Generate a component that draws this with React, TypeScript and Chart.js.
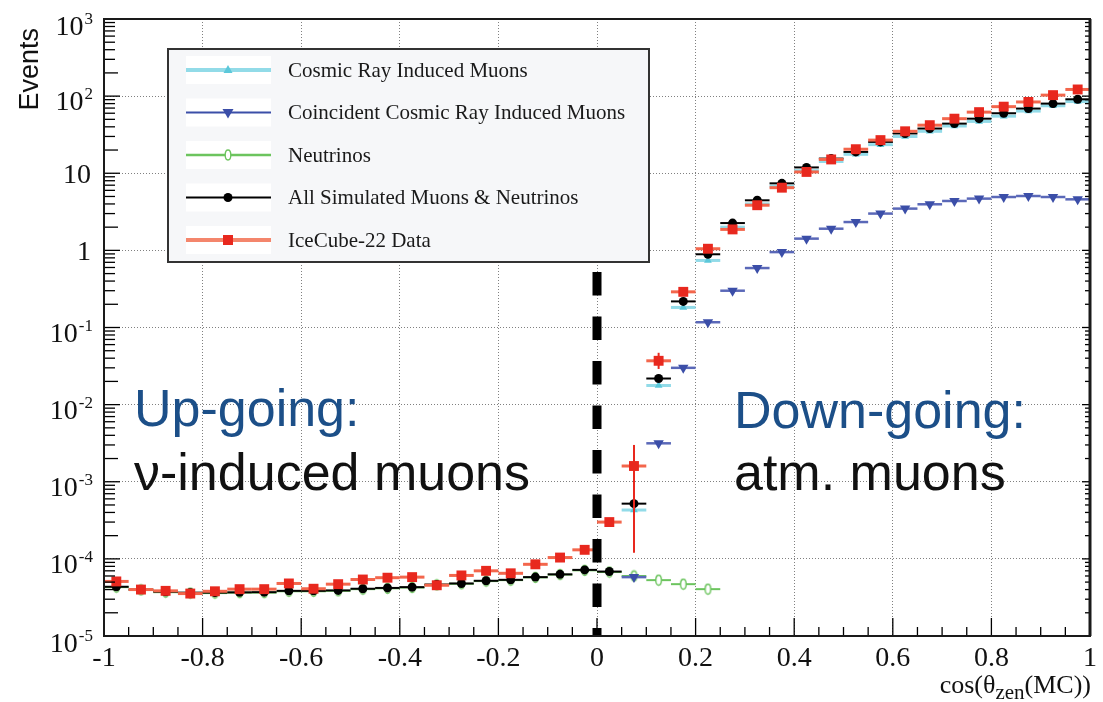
import { useEffect, useRef } from "react";
import { Chart, registerables } from "chart.js";

Chart.register(...registerables);

// ---------------- data ----------------
const binCenters = [
  -0.975, -0.925, -0.875, -0.825, -0.775, -0.725, -0.675, -0.625, -0.575, -0.525,
  -0.475, -0.425, -0.375, -0.325, -0.275, -0.225, -0.175, -0.125, -0.075, -0.025,
  0.025, 0.075, 0.125, 0.175, 0.225, 0.275, 0.325, 0.375, 0.425, 0.475,
  0.525, 0.575, 0.625, 0.675, 0.725, 0.775, 0.825, 0.875, 0.925, 0.975,
];
const binHalfWidth = 0.025;

const cosmicRayMuons = [
  null, null, null, null, null, null, null, null, null, null,
  null, null, null, null, null, null, null, null, null, null,
  null, 4.3e-4, 0.0177, 0.182, 0.74, 2.0, 4.0, 6.8, 10.8, 14.2,
  17.6, 23.5, 30, 35, 41, 47, 55, 64, 75, 85,
];

const coincidentMuons = [
  null, null, null, null, null, null, null, null, null, null,
  null, null, null, null, null, null, null, null, null, null,
  null, 5.8e-5, 3.15e-3, 0.030, 0.117, 0.30, 0.59, 0.95, 1.42, 1.91,
  2.33, 3.0, 3.48, 3.96, 4.37, 4.69, 4.92, 5.07, 4.92, 4.59,
];

const neutrinos = [
  4.3e-5, 3.95e-5, 3.7e-5, 3.6e-5, 3.6e-5, 3.65e-5, 3.65e-5, 3.8e-5, 3.8e-5, 3.85e-5,
  4.05e-5, 4.15e-5, 4.25e-5, 4.6e-5, 4.75e-5, 5.15e-5, 5.3e-5, 5.75e-5, 6.25e-5, 7.1e-5,
  6.75e-5, 6.0e-5, 5.3e-5, 4.7e-5, 4.05e-5, null, null, null, null, null,
  null, null, null, null, null, null, null, null, null, null,
];

const allSimulated = [
  4.35e-5, 4.0e-5, 3.75e-5, 3.65e-5, 3.65e-5, 3.68e-5, 3.7e-5, 3.85e-5, 3.85e-5, 3.9e-5,
  4.1e-5, 4.2e-5, 4.3e-5, 4.65e-5, 4.8e-5, 5.2e-5, 5.35e-5, 5.8e-5, 6.3e-5, 7.2e-5,
  6.85e-5, 5.2e-4, 0.0218, 0.218, 0.89, 2.26, 4.46, 7.4, 11.9, 15.5,
  18.9, 25.5, 32.8, 38, 44, 51, 60, 69, 80, 91,
];

const iceCube22 = [
  5.1e-5, 4.0e-5, 3.85e-5, 3.55e-5, 3.8e-5, 4.05e-5, 4.05e-5, 4.8e-5, 4.1e-5, 4.7e-5,
  5.4e-5, 5.7e-5, 5.8e-5, 4.55e-5, 6.1e-5, 7.0e-5, 6.5e-5, 8.5e-5, 1.04e-4, 1.31e-4,
  3.0e-4, 1.6e-3, 0.037, 0.29, 1.05, 1.87, 3.85, 6.5, 10.4, 15.1,
  20.5, 26.9, 35, 42, 51, 62, 73, 84, 103, 122,
];

// vertical error bars of the data (only where visible)
const iceCubeErrBins = [0.075, 0.125];
const iceCubeErrLow = [1.2e-4, 0.029];
const iceCubeErrHigh = [3.0e-3, 0.047];

const xTickValues = [-1, -0.8, -0.6, -0.4, -0.2, 0, 0.2, 0.4, 0.6, 0.8, 1];
const xTickLabels = ["-1", "-0.8", "-0.6", "-0.4", "-0.2", "0", "0.2", "0.4", "0.6", "0.8", "1"];
const yTickValues = [1e-5, 1e-4, 1e-3, 1e-2, 1e-1, 1, 10, 100, 1000];
const yTickBase = ["10", "10", "10", "10", "10", "1", "10", "10", "10"];
const yTickExponent = ["-5", "-4", "-3", "-2", "-1", "", "", "2", "3"];

const cutValue = 0;
const upText = ["Up-going:", "ν-induced muons"];
const downText = ["Down-going:", "atm. muons"];

// ---------------- styles ----------------
const SERIF = '"Liberation Serif", "Times New Roman", serif';
const SANS = '"Liberation Sans", Arial, Helvetica, sans-serif';

const C_CYAN = "#5cc8da";
const C_CYAN_BAR = "#92dbe8";
const C_BLUE = "#3b4ea8";
const C_BLUE_BAR = "#5a68b8";
const C_GREEN = "#6cc45e";
const C_BLACK = "#000000";
const C_RED = "#e8281e";
const C_RED_BAR = "#f3664c";
const C_RED_LEG = "#f4866c";
const C_ANNOT_BLUE = "#1c4f88";

function toPoints(arr: (number | null)[]) {
  const pts: { x: number; y: number }[] = [];
  arr.forEach((v, i) => {
    if (v !== null && v !== undefined) pts.push({ x: binCenters[i], y: v });
  });
  return pts;
}

function makeEllipseMarker(color: string) {
  const c = document.createElement("canvas");
  c.width = 9;
  c.height = 13;
  const g = c.getContext("2d")!;
  g.strokeStyle = color;
  g.fillStyle = "#ffffff";
  g.lineWidth = 1.4;
  g.beginPath();
  g.ellipse(4.5, 6.5, 2.8, 5, 0, 0, Math.PI * 2);
  g.fill();
  g.stroke();
  return c;
}

function drawMarker(ctx: CanvasRenderingContext2D, kind: string, x: number, y: number, color: string) {
  ctx.save();
  ctx.fillStyle = color;
  ctx.strokeStyle = color;
  ctx.beginPath();
  if (kind === "rect") {
    ctx.rect(x - 5, y - 5, 10, 10);
    ctx.fill();
  } else if (kind === "circle") {
    ctx.arc(x, y, 4.5, 0, Math.PI * 2);
    ctx.fill();
  } else if (kind === "triUp") {
    ctx.moveTo(x, y - 5);
    ctx.lineTo(x + 4.5, y + 3);
    ctx.lineTo(x - 4.5, y + 3);
    ctx.closePath();
    ctx.fill();
  } else if (kind === "triDown") {
    ctx.moveTo(x, y + 6);
    ctx.lineTo(x + 5.5, y - 3.5);
    ctx.lineTo(x - 5.5, y - 3.5);
    ctx.closePath();
    ctx.fill();
  } else if (kind === "ellipse") {
    ctx.fillStyle = "#fff";
    ctx.lineWidth = 1.4;
    ctx.ellipse(x, y, 2.8, 5, 0, 0, Math.PI * 2);
    ctx.fill();
    ctx.stroke();
  }
  ctx.restore();
}

// horizontal (bin width) and vertical error bars, drawn under each dataset's markers
const errorBarPlugin = {
  id: "errorBars",
  beforeDatasetDraw(chart: any, args: any) {
    const ds = chart.data.datasets[args.index];
    const xs = chart.scales.x;
    const ys = chart.scales.y;
    const ctx: CanvasRenderingContext2D = chart.ctx;
    const area = chart.chartArea;
    ctx.save();
    ctx.beginPath();
    ctx.rect(area.left, area.top, area.right - area.left, area.bottom - area.top);
    ctx.clip();
    ctx.strokeStyle = ds.barColor;
    ctx.lineWidth = ds.barWidth;
    ds.data.forEach((p: any) => {
      const y = ys.getPixelForValue(p.y);
      ctx.beginPath();
      ctx.moveTo(xs.getPixelForValue(p.x - binHalfWidth), y);
      ctx.lineTo(xs.getPixelForValue(p.x + binHalfWidth), y);
      ctx.stroke();
    });
    if (ds.errBins) {
      ctx.strokeStyle = ds.errColor;
      ctx.lineWidth = 2;
      ds.errBins.forEach((bx: number, i: number) => {
        const x = xs.getPixelForValue(bx);
        ctx.beginPath();
        ctx.moveTo(x, ys.getPixelForValue(ds.errLow[i]));
        ctx.lineTo(x, ys.getPixelForValue(ds.errHigh[i]));
        ctx.stroke();
      });
    }
    ctx.restore();
  },
};

// frame, ticks, dashed cut line, labels, legend
const framePlugin = {
  id: "frame",
  afterDatasetsDraw(chart: any) {
    const ctx: CanvasRenderingContext2D = chart.ctx;
    const a = chart.chartArea;
    const xs = chart.scales.x;
    const ys = chart.scales.y;

    // dashed vertical cut line at cos = 0
    const cx = xs.getPixelForValue(cutValue);
    ctx.save();
    ctx.strokeStyle = "#000";
    ctx.lineWidth = 9;
    ctx.setLineDash([23.5, 21]);
    ctx.beginPath();
    ctx.moveTo(cx, 272);
    ctx.lineTo(cx, a.bottom);
    ctx.stroke();
    ctx.restore();

    ctx.save();
    ctx.strokeStyle = "#000";
    ctx.lineWidth = 1.3;
    for (let d = -5; d <= 3; d++) {
      for (let m = 1; m <= 9; m++) {
        if (d === 3 && m > 1) break;
        const v = m * Math.pow(10, d);
        const y = ys.getPixelForValue(v);
        const len = m === 1 ? 16 : m === 2 ? 14 : 11;
        ctx.beginPath();
        ctx.moveTo(a.left, y);
        ctx.lineTo(a.left + len, y);
        ctx.stroke();
        ctx.beginPath();
        ctx.moveTo(a.right, y);
        ctx.lineTo(a.right - (m === 1 ? 8 : 5), y);
        ctx.stroke();
      }
    }
    for (let k = 0; k <= 40; k++) {
      const v = -1 + k * 0.05;
      const x = xs.getPixelForValue(v);
      const len = k % 4 === 0 ? 18 : 9;
      ctx.beginPath();
      ctx.moveTo(x, a.bottom);
      ctx.lineTo(x, a.bottom - len);
      ctx.stroke();
    }
    ctx.strokeStyle = "#1a1a1a";
    ctx.lineWidth = 2;
    ctx.strokeRect(a.left, a.top, a.right - a.left, a.bottom - a.top);
    ctx.lineWidth = 3;
    ctx.beginPath();
    ctx.moveTo(a.right, a.top);
    ctx.lineTo(a.right, a.bottom);
    ctx.stroke();
    ctx.restore();
  },
  afterDraw(chart: any) {
    const ctx: CanvasRenderingContext2D = chart.ctx;
    const a = chart.chartArea;
    const ys = chart.scales.y;

    // y tick labels with superscript exponents
    ctx.save();
    ctx.fillStyle = "#111";
    ctx.textBaseline = "alphabetic";
    yTickValues.forEach((v, i) => {
      const y = ys.getPixelForValue(v);
      const exp = yTickExponent[i];
      const right = 93;
      const edge = i === 0 || i === yTickValues.length - 1 ? 2 : 0;
      if (exp) {
        ctx.font = `17px ${SERIF}`;
        ctx.textAlign = "right";
        const ew = ctx.measureText(exp).width;
        ctx.fillText(exp, right, y + 3 + edge);
        ctx.font = `28px ${SERIF}`;
        ctx.fillText(yTickBase[i], right - ew - 1, y + 14 + edge);
      } else {
        ctx.font = `28px ${SERIF}`;
        ctx.textAlign = "right";
        ctx.fillText(yTickBase[i], right - 2, y + 10);
      }
    });
    ctx.restore();

    // y title
    ctx.save();
    ctx.translate(31, 28);
    ctx.rotate(-Math.PI / 2);
    ctx.font = `27px ${SANS}`;
    ctx.fillStyle = "#111";
    ctx.textAlign = "right";
    ctx.textBaseline = "middle";
    ctx.fillText("Events", 0, 0);
    ctx.restore();

    // x title: cos(θ_zen(MC))
    ctx.save();
    ctx.fillStyle = "#111";
    ctx.textBaseline = "alphabetic";
    ctx.textAlign = "left";
    const parts: [string, number, number][] = [
      ["cos(θ", 26, 0],
      ["zen", 21, 6],
      ["(MC))", 26, 0],
    ];
    let total = 0;
    parts.forEach(([t, s]) => {
      ctx.font = `${s}px ${SERIF}`;
      total += ctx.measureText(t).width;
    });
    let px = a.right + 1 - total;
    parts.forEach(([t, s, dy]) => {
      ctx.font = `${s}px ${SERIF}`;
      ctx.fillText(t, px, 693 + dy);
      px += ctx.measureText(t).width;
    });
    ctx.restore();

    // annotations
    ctx.save();
    ctx.font = `52px ${SANS}`;
    ctx.textAlign = "left";
    ctx.textBaseline = "alphabetic";
    ctx.fillStyle = C_ANNOT_BLUE;
    ctx.fillText(upText[0], 134, 426);
    ctx.fillText(downText[0], 734, 428);
    ctx.fillStyle = "#111";
    ctx.fillText(upText[1], 134, 490);
    ctx.fillText(downText[1], 734, 490);
    ctx.restore();

    // legend
    const legendOrder = [3, 2, 4, 1, 0];
    const box = { l: 168, t: 49, r: 649, b: 262 };
    ctx.save();
    ctx.fillStyle = "#f6f7f9";
    ctx.fillRect(box.l, box.t, box.r - box.l, box.b - box.t);
    ctx.strokeStyle = "#333";
    ctx.lineWidth = 2;
    ctx.strokeRect(box.l, box.t, box.r - box.l, box.b - box.t);
    legendOrder.forEach((di, row) => {
      const ds = chart.data.datasets[di];
      const cy = 70 + row * 42.5;
      ctx.fillStyle = "#ffffff";
      ctx.fillRect(186, cy - 14, 85, 28);
      ctx.strokeStyle = ds.legendLine;
      ctx.lineWidth = ds.legendLineWidth;
      ctx.beginPath();
      ctx.moveTo(186, cy);
      ctx.lineTo(271, cy);
      ctx.stroke();
      drawMarker(ctx, ds.legendMarker, 228, cy, ds.backgroundColor === "#ffffff" ? ds.borderColor : ds.backgroundColor);
      ctx.fillStyle = "#1a1a1a";
      ctx.font = `21px ${SERIF}`;
      ctx.textAlign = "left";
      ctx.textBaseline = "middle";
      ctx.fillText(ds.label, 288, cy + 1);
    });
    ctx.restore();
  },
};

export default function App() {
  const canvasRef = useRef<HTMLCanvasElement | null>(null);

  useEffect(() => {
    const canvas = canvasRef.current;
    if (!canvas) return;
    const ellipse = makeEllipseMarker(C_GREEN);

    const chart = new Chart(canvas, {
      type: "scatter",
      data: {
        datasets: [
          {
            label: "IceCube-22 Data",
            data: toPoints(iceCube22),
            pointStyle: "rect",
            pointRadius: 7,
            backgroundColor: C_RED,
            borderColor: C_RED,
            pointBorderWidth: 0,
            barColor: C_RED_BAR,
            barWidth: 3,
            errBins: iceCubeErrBins,
            errLow: iceCubeErrLow,
            errHigh: iceCubeErrHigh,
            errColor: C_RED,
            legendLine: C_RED_LEG,
            legendLineWidth: 4,
            legendMarker: "rect",
          },
          {
            label: "All Simulated Muons & Neutrinos",
            data: toPoints(allSimulated),
            pointStyle: "circle",
            pointRadius: 4.5,
            backgroundColor: C_BLACK,
            borderColor: C_BLACK,
            pointBorderWidth: 0,
            barColor: C_BLACK,
            barWidth: 2,
            legendLine: C_BLACK,
            legendLineWidth: 2,
            legendMarker: "circle",
          },
          {
            label: "Coincident Cosmic Ray Induced Muons",
            data: toPoints(coincidentMuons),
            pointStyle: "triangle",
            rotation: 180,
            pointRadius: 6,
            backgroundColor: C_BLUE,
            borderColor: C_BLUE,
            pointBorderWidth: 0,
            barColor: C_BLUE_BAR,
            barWidth: 2.5,
            legendLine: C_BLUE,
            legendLineWidth: 2,
            legendMarker: "triDown",
          },
          {
            label: "Cosmic Ray Induced Muons",
            data: toPoints(cosmicRayMuons),
            pointStyle: "triangle",
            pointRadius: 4.5,
            backgroundColor: C_CYAN,
            borderColor: C_CYAN,
            pointBorderWidth: 0,
            barColor: C_CYAN_BAR,
            barWidth: 3,
            legendLine: C_CYAN_BAR,
            legendLineWidth: 4,
            legendMarker: "triUp",
          },
          {
            label: "Neutrinos",
            data: toPoints(neutrinos),
            pointStyle: ellipse,
            pointRadius: 5,
            backgroundColor: "#ffffff",
            borderColor: C_GREEN,
            pointBorderWidth: 1,
            barColor: C_GREEN,
            barWidth: 2,
            legendLine: C_GREEN,
            legendLineWidth: 2.5,
            legendMarker: "ellipse",
          },
        ] as any,
      },
      options: {
        responsive: false,
        animation: false,
        devicePixelRatio: 1,
        events: [],
        layout: { padding: { top: 19, right: 12, left: 0, bottom: 0 } },
        plugins: { legend: { display: false }, tooltip: { enabled: false } },
        scales: {
          x: {
            type: "linear",
            min: -1,
            max: 1,
            afterBuildTicks: (s: any) => {
              s.ticks = xTickValues.map((v) => ({ value: v }));
            },
            afterFit: (s: any) => {
              s.height = 66;
            },
            ticks: {
              autoSkip: false,
              maxRotation: 0,
              minRotation: 0,
              color: "#111",
              padding: 6,
              font: { family: SERIF, size: 28 },
              callback: (_v: any, i: number) => xTickLabels[i],
            },
            grid: { color: "#808080", lineWidth: 1, drawTicks: false },
            border: { display: false, dash: [1, 2] },
          },
          y: {
            type: "logarithmic",
            min: 1e-5,
            max: 1e3,
            afterBuildTicks: (s: any) => {
              s.ticks = yTickValues.map((v) => ({ value: v }));
            },
            afterFit: (s: any) => {
              s.width = 104;
            },
            ticks: { display: false },
            grid: { color: "#808080", lineWidth: 1, drawTicks: false },
            border: { display: false, dash: [1, 2] },
          },
        },
      } as any,
      plugins: [errorBarPlugin, framePlugin],
    });
    return () => chart.destroy();
  }, []);

  return (
    <div style={{ position: "absolute", left: 0, top: 0, width: 1103, height: 702, background: "#fff" }}>
      <canvas ref={canvasRef} width={1103} height={702} style={{ width: 1103, height: 702, display: "block" }} />
    </div>
  );
}
